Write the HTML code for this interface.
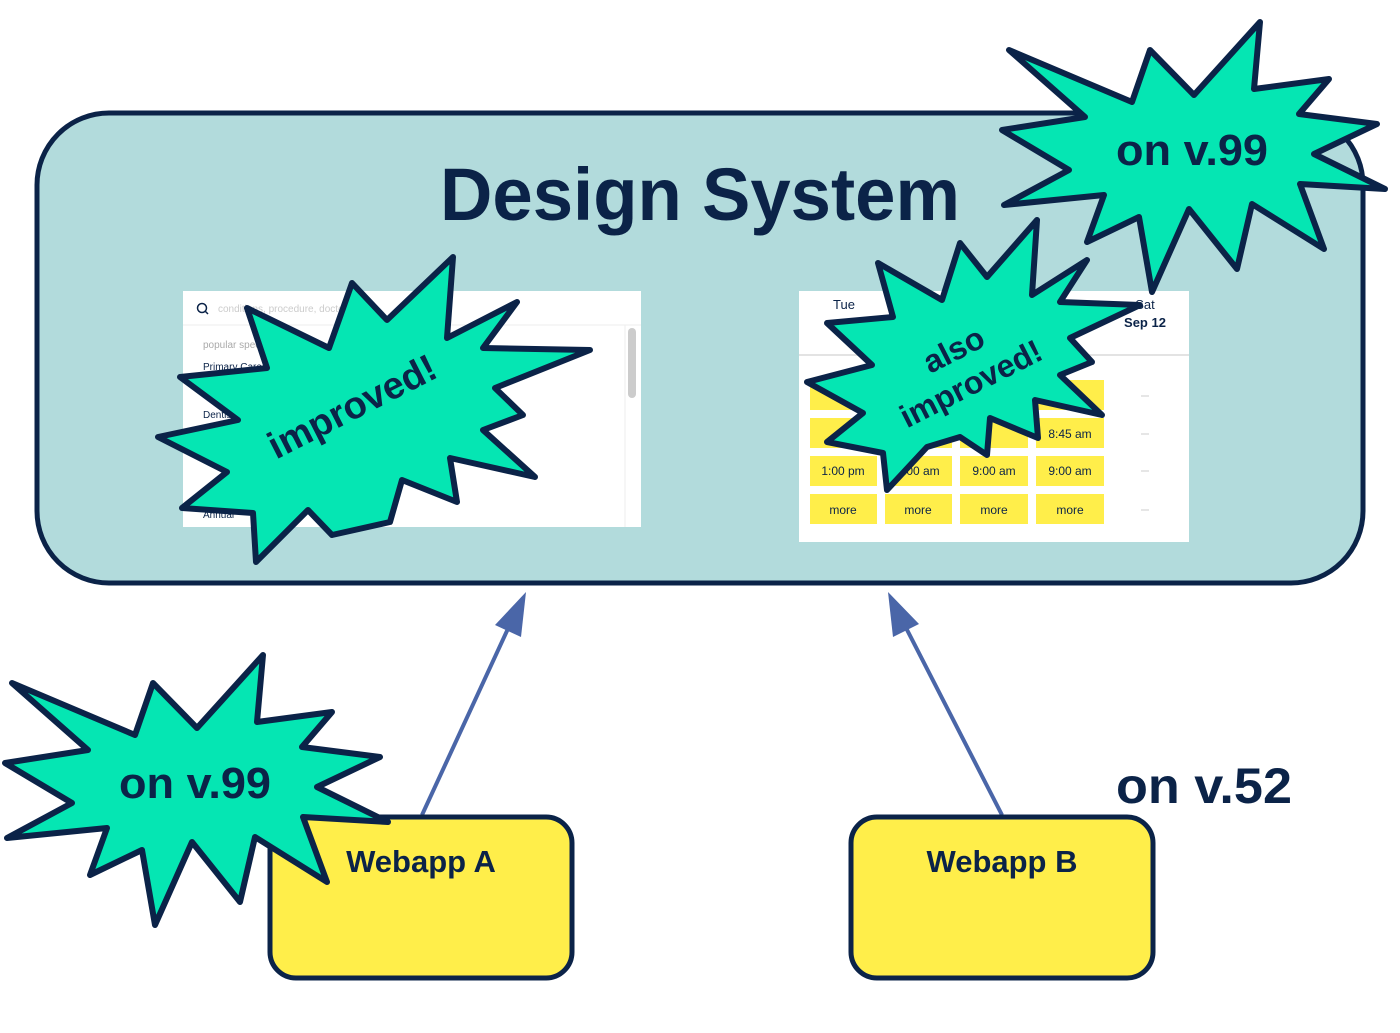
<!DOCTYPE html>
<html><head><meta charset="utf-8"><style>html,body{margin:0;padding:0;background:#fff}svg{display:block}</style></head>
<body>
<svg width="1400" height="1033" viewBox="0 0 1400 1033" xmlns="http://www.w3.org/2000/svg" font-family="Liberation Sans, Arial, sans-serif">
<defs>
<polygon id="star" points="12,683 88,750 5,763 72,803 7,838 107,828 90,875 142,850 155,925 192,842 240,902 255,837 327,882 303,817 388,822 317,787 380,757 302,747 332,712 257,722 263,655 197,728 153,683 135,735" fill="#05e6b3" stroke="#0b2348" stroke-width="6" stroke-linejoin="round"/>
</defs>
<rect x="37" y="113" width="1326" height="470" rx="72" fill="#b2dbdc" stroke="#0b2348" stroke-width="5"/>
<text x="440" y="220" font-size="74" font-weight="bold" fill="#0b2348" textLength="520" lengthAdjust="spacingAndGlyphs">Design System</text>

<rect x="183" y="291" width="458" height="236" fill="#fff"/>
<line x1="183" y1="325" x2="641" y2="325" stroke="#eee" stroke-width="1"/>
<circle cx="202" cy="308" r="4.5" fill="none" stroke="#0b2348" stroke-width="1.5"/>
<line x1="205" y1="311" x2="208" y2="314" stroke="#0b2348" stroke-width="1.5"/>
<text x="218" y="312" font-size="10" fill="#ccc">conditions, procedure, doctor</text>
<text x="203" y="348" font-size="10" fill="#aaa">popular specialties</text>
<text x="203" y="370" font-size="10" fill="#0b2348">Primary Care</text>
<text x="203" y="418" font-size="10" fill="#0b2348">Dentist</text>
<text x="203" y="518" font-size="10" fill="#0b2348">Annual</text>
<rect x="628" y="328" width="8" height="70" rx="4" fill="#ccc"/>
<line x1="625" y1="325" x2="625" y2="527" stroke="#eee"/>

<rect x="799" y="291" width="390" height="251" fill="#fff"/>
<line x1="799" y1="355" x2="1189" y2="355" stroke="#e3e3e3" stroke-width="2"/>
<text x="844" y="309" font-size="13" fill="#0b2348" text-anchor="middle">Tue</text>
<text x="1145" y="309" font-size="13" fill="#0b2348" text-anchor="middle">Sat</text>
<text x="1145" y="327" font-size="13" fill="#0b2348" text-anchor="middle" font-weight="bold">Sep 12</text>
<g fill="#ffee4a">
<rect x="810" y="380" width="67" height="30"/><rect x="885" y="380" width="67" height="30"/><rect x="960" y="380" width="68" height="30"/><rect x="1036" y="380" width="68" height="30"/>
<rect x="810" y="418" width="67" height="30"/><rect x="885" y="418" width="67" height="30"/><rect x="960" y="418" width="68" height="30"/><rect x="1036" y="418" width="68" height="30"/>
<rect x="810" y="456" width="67" height="30"/><rect x="885" y="456" width="67" height="30"/><rect x="960" y="456" width="68" height="30"/><rect x="1036" y="456" width="68" height="30"/>
<rect x="810" y="494" width="67" height="30"/><rect x="885" y="494" width="67" height="30"/><rect x="960" y="494" width="68" height="30"/><rect x="1036" y="494" width="68" height="30"/>
</g>
<g font-size="12" fill="#0b2348" text-anchor="middle">
<text x="1070" y="438">8:45 am</text>
<text x="843" y="475">1:00 pm</text><text x="918" y="475">9:00 am</text><text x="994" y="475">9:00 am</text><text x="1070" y="475">9:00 am</text>
<text x="843" y="514">more</text><text x="918" y="514">more</text><text x="994" y="514">more</text><text x="1070" y="514">more</text>
</g>
<g stroke="#ccc"><line x1="1141" y1="396" x2="1149" y2="396"/><line x1="1141" y1="434" x2="1149" y2="434"/><line x1="1141" y1="471" x2="1149" y2="471"/><line x1="1141" y1="510" x2="1149" y2="510"/></g>

<polygon points="453,257 447,338 517,302 483,348 590,350 495,388 523,415 483,430 535,477 450,458 457,502 402,480 390,522 332,535 308,510 256,562 253,513 182,508 227,472 158,437 238,420 180,377 267,368 247,308 329,348 352,283 387,320" fill="#05e6b3" stroke="#0b2348" stroke-width="6" stroke-linejoin="round"/>
<text x="0" y="0" font-size="38" font-weight="bold" fill="#0b2348" transform="translate(358,418) rotate(-27)" text-anchor="middle">improved!</text>

<use href="#star" transform="translate(997,-633)"/>
<text x="1192" y="165" font-size="44" font-weight="bold" fill="#0b2348" text-anchor="middle" textLength="152" lengthAdjust="spacingAndGlyphs">on v.99</text>

<polygon points="1037,220 1032,295 1087,260 1060,302 1140,305 1070,338 1092,362 1060,375 1102,415 1035,400 1038,438 990,418 987,455 960,437 927,447 887,490 883,453 827,442 863,413 807,382 872,365 827,323 893,317 878,263 942,300 960,243 987,277" fill="#05e6b3" stroke="#0b2348" stroke-width="6" stroke-linejoin="round"/>
<g font-size="32" font-weight="bold" fill="#0b2348" text-anchor="middle" transform="translate(965,372) rotate(-27)">
<text x="0" y="-14">also</text>
<text x="0" y="24">improved!</text>
</g>

<line x1="422" y1="815" x2="512" y2="620" stroke="#4a66a8" stroke-width="4"/>
<polygon points="526,592 521,637 495,625" fill="#4a66a8"/>
<line x1="1002" y1="815" x2="902" y2="620" stroke="#4a66a8" stroke-width="4"/>
<polygon points="888,592 919,624 893,637" fill="#4a66a8"/>

<rect x="270" y="817" width="302" height="161" rx="26" fill="#ffee4a" stroke="#0b2348" stroke-width="5"/>
<rect x="851" y="817" width="302" height="161" rx="26" fill="#ffee4a" stroke="#0b2348" stroke-width="5"/>
<text x="1002" y="872" font-size="31" font-weight="bold" fill="#0b2348" text-anchor="middle">Webapp B</text>

<use href="#star"/>
<text x="195" y="798" font-size="44" font-weight="bold" fill="#0b2348" text-anchor="middle" textLength="152" lengthAdjust="spacingAndGlyphs">on v.99</text>
<text x="421" y="872" font-size="31" font-weight="bold" fill="#0b2348" text-anchor="middle">Webapp A</text>

<text x="1116" y="803" font-size="50" font-weight="bold" fill="#0b2348" textLength="176" lengthAdjust="spacingAndGlyphs">on v.52</text>
</svg>
</body></html>
